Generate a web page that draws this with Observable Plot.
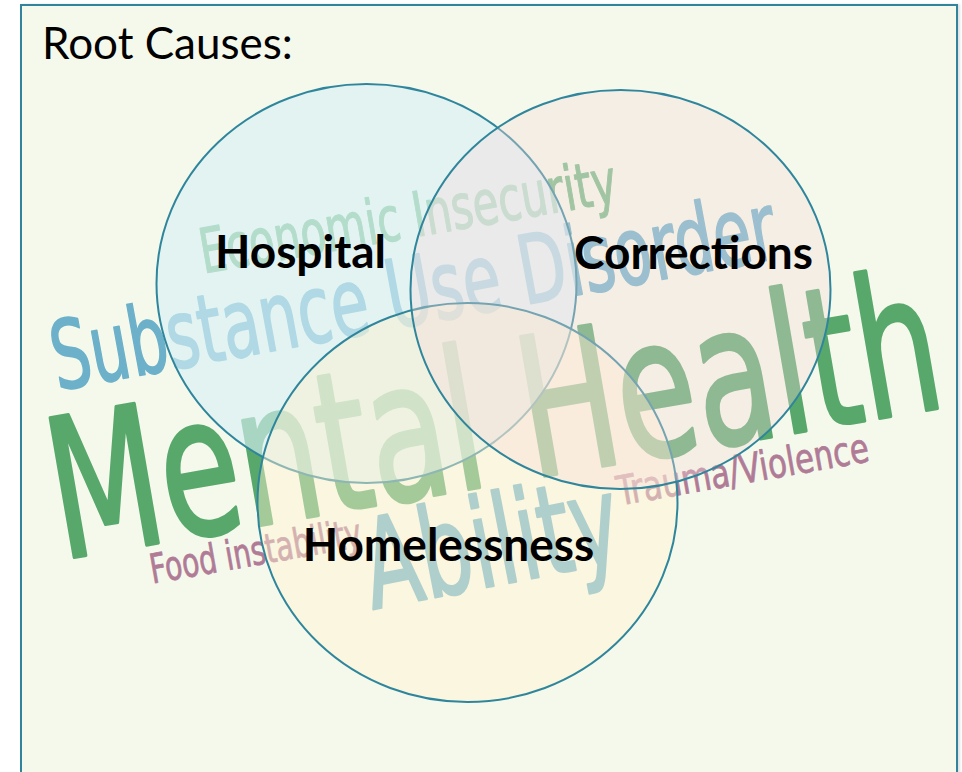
<!DOCTYPE html>
<html>
<head>
<meta charset="utf-8">
<script src="https://cdn.jsdelivr.net/npm/d3@7"></script>
<script src="https://cdn.jsdelivr.net/npm/@observablehq/plot@0.6"></script>
<style>
  html, body { margin: 0; padding: 0; background: #ffffff; }
  #frame {
    position: absolute; left: 20px; top: 4px; width: 934px; height: 820px;
    border: 2px solid #31849b; border-bottom: none; background: #f5f9ec;
    box-shadow: 2px 0 2px rgba(0,0,0,0.12);
  }
  #title {
    position: absolute; left: 42px; top: 20px; font-family: Lato, "Open Sans", sans-serif;
    font-size: 44px; line-height: 44px; color: #000; white-space: nowrap;
  }
  #chart { position: absolute; left: 0; top: 0; }
</style>
</head>
<body>
<div id="frame"></div>
<div id="title"></div>
<div id="chart"></div>
<script>
// ---------- data ----------
const title = "Root Causes:";
// Venn sets, in drawing order (bottom to top)
const sets = ["Hospital", "Homelessness", "Corrections"];
// word cloud: root causes and their relative weight
const words = ["Mental Health", "Substance Use Disorder", "Economic Insecurity", "Ability", "Food instability", "Trauma/Violence"];
const weights = [100, 49, 32, 64, 21, 21];

// ---------- layout (pixel coordinates, identity scales) ----------
const setCX = [366, 467, 620];
const setCY = [283, 502, 289];
const setLabelX = [300, 448, 693];
const setLabelY = [267, 560, 268];
const setFill = ["#d7f0f4", "#fff2d0", "#f5d9db"];
const setAlpha = [0.64, 0.46, 0.35];
const setRy = 199.5, setRx = 210;

const wordX = [61, 57, 203, 372, 152, 619];
const wordY = [559, 390, 273, 609, 583, 505];
const wordAngle = [-9.8, -10.4, -9.8, -11, -10, -10];
const wordLen = [900, 735, 422, 258, 214, 255];
const wordColor = ["#58a86c", "#6cb1c9", "#74bb84", "#6cb1c9", "#b07b96", "#b07b96"];
const sizeFactor = 1.94;

const circles = sets.map((name, i) => ({name, x: setCX[i], y: setCY[i], fill: setFill[i], alpha: setAlpha[i]}));
const labels = sets.map((name, i) => ({name, x: setLabelX[i], y: setLabelY[i]}));
const cloud = words.map((w, i) => ({text: w, weight: weights[i], x: wordX[i], y: wordY[i], angle: wordAngle[i], color: wordColor[i], len: wordLen[i]}));

document.getElementById("title").textContent = title;

const chart = Plot.plot({
  width: 962,
  height: 772,
  margin: 0,
  x: {type: "identity", axis: null},
  y: {type: "identity", axis: null},
  color: {type: "identity"},
  opacity: {type: "identity"},
  style: {background: "transparent", overflow: "visible"},
  marks: [
    Plot.text(cloud, {
      x: "x", y: "y", text: "text",
      fontSize: d => d.weight * sizeFactor,
      rotate: d => d.angle,
      fill: d => d.color,
      stroke: d => d.color,
      strokeWidth: d => d.weight * 0.035,
      strokeLinejoin: "round",
      textAnchor: "start", lineAnchor: "bottom",
      fontFamily: "'Liberation Sans Narrow', 'DejaVu Sans Condensed', 'Roboto Condensed', sans-serif"
    }),
    Plot.dot(circles, {
      x: "x", y: "y", r: setRy,
      fill: d => d.fill, fillOpacity: d => d.alpha,
      stroke: "#2f869c", strokeWidth: 2
    }),
    Plot.text(labels, {
      x: "x", y: "y", text: "name",
      fontSize: 46, fontWeight: "bold", fill: "#000",
      fontFamily: "Lato, 'Open Sans', sans-serif",
      textAnchor: "middle", lineAnchor: "bottom"
    })
  ]
});

const layers = Array.from(chart.children).filter(el => el.tagName.toLowerCase() === "g");
// condensed word-cloud lettering
d3.select(layers[0]).selectAll("text").each(function(_, i) {
  this.setAttribute("textLength", cloud[i].len);
  this.setAttribute("lengthAdjust", "spacingAndGlyphs");
});
// sets are drawn as slightly wide ellipses
d3.select(layers[1]).selectAll("circle").each(function() {
  const cx = +this.getAttribute("cx");
  const sx = setRx / setRy;
  this.setAttribute("transform", `translate(${cx},0) scale(${sx},1) translate(${-cx},0)`);
  this.setAttribute("vector-effect", "non-scaling-stroke");
});

document.getElementById("chart").appendChild(chart);
</script>
</body>
</html>
